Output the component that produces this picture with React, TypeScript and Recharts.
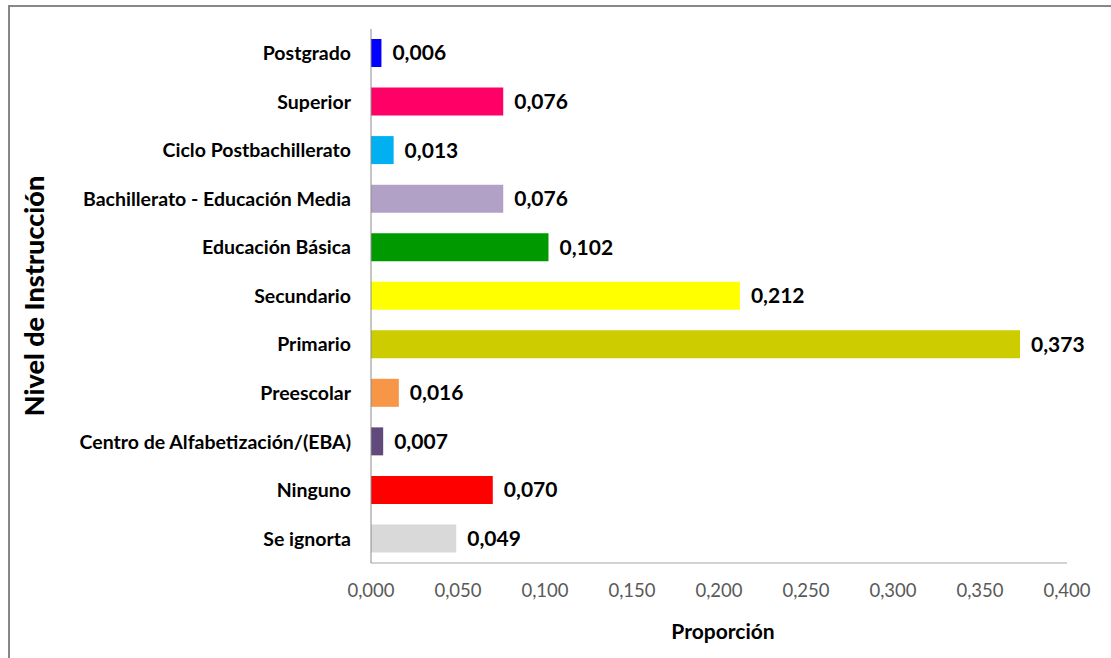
import React from 'react';
import { BarChart, Bar, XAxis, YAxis, Cell, LabelList } from 'recharts';

const categories = [
  'Postgrado',
  'Superior',
  'Ciclo Postbachillerato',
  'Bachillerato - Educación Media',
  'Educación Básica',
  'Secundario',
  'Primario',
  'Preescolar',
  'Centro de Alfabetización/(EBA)',
  'Ninguno',
  'Se ignorta',
];

const proportions = [0.006, 0.076, 0.013, 0.076, 0.102, 0.212, 0.373, 0.016, 0.007, 0.07, 0.049];

const barColors = [
  '#0000FF',
  '#FF0066',
  '#00B0F0',
  '#B2A1C7',
  '#009900',
  '#FFFF00',
  '#CCCC00',
  '#F79646',
  '#604A7B',
  '#FF0000',
  '#D9D9D9',
];

const xTicks = [0, 0.05, 0.1, 0.15, 0.2, 0.25, 0.3, 0.35, 0.4];

const data = categories.map((name, i) => ({ name, value: proportions[i], fill: barColors[i] }));

const FONT = 'Lato, "DejaVu Sans", sans-serif';
const fmt = (v: number) => v.toFixed(3).replace('.', ',');

const YTitle = ({ viewBox }: any) => {
  const cy = viewBox.y + viewBox.height / 2;
  return (
    <text
      x={33}
      y={cy}
      transform={`rotate(-90, 33, ${cy})`}
      textAnchor="middle"
      dominantBaseline="central"
      fontFamily={FONT}
      fontWeight={900}
      fontSize={27}
      fill="#000"
    >
      Nivel de Instrucción
    </text>
  );
};

const XTitle = ({ viewBox }: any) => {
  const cx = viewBox.x + viewBox.width / 2;
  return (
    <text x={cx + 4} y={639} textAnchor="middle" fontFamily={FONT} fontWeight={700} fontSize={21} fill="#000">
      Proporción
    </text>
  );
};

export default function App() {
  return (
    <div style={{ position: 'absolute', left: 0, top: 0, width: 1111, height: 658, overflow: 'hidden', background: '#fff' }}>
      <div
        style={{
          position: 'absolute',
          left: 8,
          top: 5,
          width: 1200,
          height: 700,
          border: '2px solid #878787',
        }}
      />
      <div style={{ position: 'absolute', left: 0, top: 0 }}>
        <BarChart
          width={1111}
          height={658}
          data={data}
          layout="vertical"
          margin={{ top: 29, right: 44, bottom: 0, left: 0 }}
        >
          <XAxis
            type="number"
            domain={[0, 0.4]}
            ticks={xTicks}
            tickFormatter={fmt}
            height={95}
            tickLine={false}
            tickSize={0}
            tickMargin={21}
            stroke="#A6A6A6"
            tick={{ fill: '#595959', fontSize: 18.5, fontFamily: FONT }}
            label={<XTitle />}
          />
          <YAxis
            type="category"
            dataKey="name"
            width={371}
            tickLine={false}
            tickSize={0}
            tickMargin={20}
            stroke="#8C8C8C"
            interval={0}
            tick={{ fill: '#000', fontSize: 19.5, fontWeight: 700, fontFamily: FONT }}
            label={<YTitle />}
          />
          <Bar dataKey="value" barSize={28} isAnimationActive={false}>
            {data.map((d, i) => (
              <Cell key={i} fill={d.fill} />
            ))}
            <LabelList
              dataKey="value"
              position="right"
              offset={11}
              formatter={(v: any) => fmt(Number(v))}
              fill="#000"
              fontSize={21}
              fontWeight={700}
              fontFamily={FONT}
            />
          </Bar>
        </BarChart>
      </div>
    </div>
  );
}
